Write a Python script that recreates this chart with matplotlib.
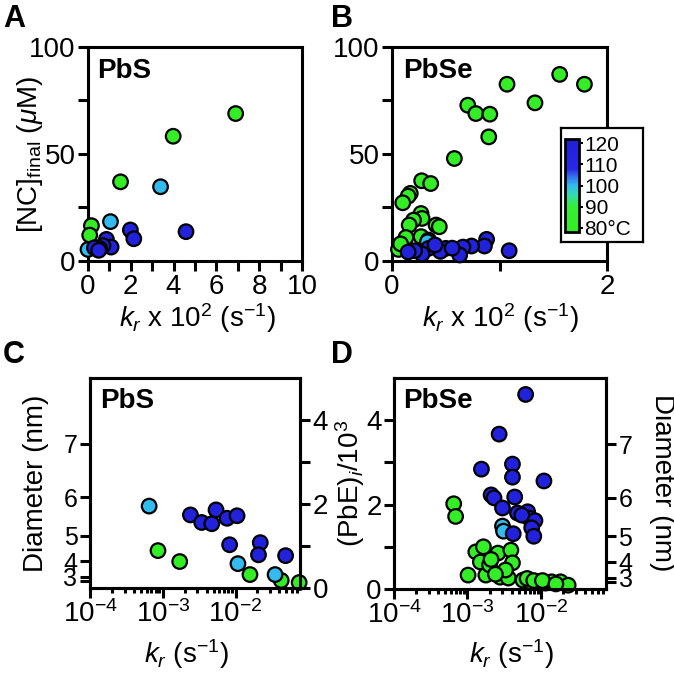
import matplotlib
matplotlib.use("Agg")
import matplotlib.pyplot as plt
from matplotlib.colors import LinearSegmentedColormap, Normalize
from matplotlib.cm import ScalarMappable

plt.rcParams['font.family'] = ['Liberation Sans', 'DejaVu Sans']
plt.rcParams['mathtext.fontset'] = 'custom'
plt.rcParams['mathtext.rm'] = 'Liberation Sans'
plt.rcParams['mathtext.it'] = 'Liberation Sans:italic'
plt.rcParams['mathtext.bf'] = 'Liberation Sans:bold'

# --- A: PbS, k_r x 10^2 (s^-1) vs [NC]_final (uM), colour = temperature (C)
a_x = [6.9, 3.98, 1.52, 0.16, 0.08,
       3.39, 1.05, 0.0,
       1.98, 2.14, 4.58, 0.86, 1.08, 0.7, 0.55, 0.3, 0.5]
a_y = [68.9, 58.3, 37.0, 16.5, 12.1,
       34.7, 18.4, 5.4,
       14.5, 10.4, 13.7, 10.1, 6.5, 7.2, 5.8, 6.2, 5.0]
a_t = [80] * 5 + [100] * 3 + [118] * 9

# --- B: PbSe
b_x = [1.56, 1.79, 1.07, 1.33, 0.705, 0.78, 0.91, 0.90, 0.58, 0.276, 0.36,
       0.17, 0.15, 0.10, 0.27, 0.28, 0.20, 0.16, 0.41, 0.44, 0.13, 0.27,
       0.34, 0.06, 0.08,
       0.33,
       1.09, 0.88, 0.86, 0.74, 0.66, 0.63, 0.50, 0.45, 0.34, 0.28, 0.21,
       0.15, 0.40, 0.56]
b_y = [87.2, 82.6, 82.6, 73.9, 72.8, 68.9, 68.6, 58.0, 47.9, 37.5, 36.2,
       31.6, 30.3, 27.2, 22.2, 19.9, 19.1, 16.8, 16.8, 16.0, 11.0, 11.4,
       9.8, 5.4, 8.0,
       9.0,
       4.8, 10.1, 7.0, 7.0, 6.5, 2.8, 5.9, 4.5, 5.9, 3.3, 4.8,
       4.2, 7.5, 6.0]
b_t = [80] * 25 + [100] * 1 + [118] * 14

# --- C: PbS, k_r (s^-1) vs (PbE)_i / 10^3
c_x = [8.6e-4, 1.71e-3, 1.58e-2, 4.25e-2, 7.5e-2,
       6.5e-4, 1.08e-2, 3.5e-2,
       2.4e-3, 3.43e-3, 4.72e-3, 5.4e-3, 7.65e-3, 1.05e-2, 8.3e-3,
       2.19e-2, 2.07e-2, 4.88e-2]
c_y = [0.89, 0.63, 0.32, 0.18, 0.13,
       1.95, 0.58, 0.32,
       1.74, 1.56, 1.53, 1.86, 1.66, 1.72, 1.03,
       1.08, 0.79, 0.77]
c_t = [80] * 5 + [100] * 3 + [118] * 10

# --- D: PbSe
d_x = [6.5e-4, 6.9e-4, 1.02e-3, 1.3e-3, 1.65e-3, 1.5e-3, 1.78e-3, 2.0e-3,
       2.6e-3, 2.8e-3, 3.6e-3, 3.9e-3, 4.1e-3, 3.3e-3, 5.7e-3, 7.2e-3,
       9.1e-3, 1.15e-2, 1.4e-2, 1.85e-2, 2.35e-2, 6.5e-3, 8.0e-3, 1.05e-2,
       1.6e-2, 2.4e-3, 2.1e-3,
       3.0e-3, 3.1e-3,
       6.2e-3, 2.7e-3, 1.55e-3, 4.1e-3, 4.1e-3, 1.1e-2, 2.1e-3, 2.3e-3,
       4.4e-3, 3.0e-3, 4.8e-3, 6.6e-3, 6.9e-3, 8.3e-3, 4.2e-3, 7.5e-3,
       8.0e-3, 5.5e-3]
d_y = [2.02, 1.72, 0.33, 0.88, 1.0, 0.64, 0.33, 0.57,
       0.85, 0.28, 0.26, 0.92, 0.62, 0.45, 0.21, 0.17,
       0.17, 0.14, 0.17, 0.17, 0.09, 0.25, 0.2, 0.2,
       0.12, 0.35, 0.7,
       1.49, 1.37,
       4.61, 3.67, 2.84, 2.96, 2.65, 2.56, 2.23, 2.16,
       2.18, 1.92, 1.80, 1.83, 1.68, 1.62, 1.31, 1.45,
       1.25, 1.75]
d_t = [80] * 27 + [100] * 2 + [118] * 18

# diameter (nm) ticks drawn against (PbE)_i/10^3 ~ 0.01 d^3
diam_ticks = [3, 4, 5, 6, 7]
pbe_per_nm3 = 0.01

cb_ticks = [80, 90, 100, 110, 120]
cb_labels = ['80°C', '90', '100', '110', '120']

# temperature colour scale
t_min, t_max = 78, 122
cmap = LinearSegmentedColormap.from_list("temp", [
    (0.00, "#33ee22"), (0.27, "#33ee33"), (0.39, "#33ddaa"),
    (0.50, "#33bbee"), (0.59, "#3377ee"), (0.68, "#2828e8"),
    (1.00, "#2020d8")])
norm = Normalize(t_min, t_max)

W = 674


def box(l, t, r, b):
    return [l / W, 1 - b / W, (r - l) / W, (b - t) / W]


def style(ax):
    for s in ax.spines.values():
        s.set_linewidth(2.2)
    ax.tick_params(which='both', direction='out', width=2.2, labelsize=20,
                   pad=2, length=7)


def dots(ax, x, y, t):
    ax.scatter(x, y, c=t, cmap=cmap, norm=norm, s=110, edgecolors='black',
               linewidths=1.6, clip_on=False, zorder=3)


def logx(ax):
    ax.set_xscale('log')
    ax.set_xlim(1e-4, 0.077)
    ax.set_xticks([1e-4, 1e-3, 1e-2])
    ax.set_xticklabels([r'10$^{-4}$', r'10$^{-3}$', r'10$^{-2}$'])
    ax.xaxis.set_minor_locator(matplotlib.ticker.LogLocator(
        base=10, subs=range(2, 10), numticks=20))
    ax.xaxis.set_minor_formatter(matplotlib.ticker.NullFormatter())
    ax.tick_params(axis='x', which='minor', length=3.5)


def diam_axis(ax):
    ax.set_ylim(0, 5)
    ax.set_yticks([pbe_per_nm3 * d ** 3 for d in diam_ticks])
    ax.set_yticklabels([str(d) for d in diam_ticks])
    ax.set_yticks([pbe_per_nm3 * 2.5 ** 3], minor=True)
    ax.tick_params(axis='y', labelsize=18)


def pbe_axis(ax):
    ax.set_ylim(0, 5)
    ax.set_yticks([0, 2, 4])
    ax.set_yticks([1, 3], minor=True)


fig = plt.figure(figsize=(6.74, 6.74), dpi=100)

# ---- A
ax = fig.add_axes(box(88, 47, 302, 261))
style(ax)
dots(ax, a_x, a_y, a_t)
ax.set_xlim(0, 10)
ax.set_ylim(0, 100)
ax.set_xticks([0, 2, 4, 6, 8, 10])
ax.set_xticks([1, 3, 5, 7, 9], minor=True)
ax.set_yticks([0, 50, 100])
ax.set_yticks([25, 75], minor=True)
ax.text(9 / 214, 1 - 31 / 214, 'PbS', transform=ax.transAxes,
        fontsize=20, weight='bold', va='baseline')

# ---- B
ax = fig.add_axes(box(392, 47, 607, 261))
style(ax)
dots(ax, b_x, b_y, b_t)
ax.set_xlim(0, 2)
ax.set_ylim(0, 100)
ax.set_xticks([0, 2])
ax.set_xticks([1], minor=True)
ax.set_yticks([0, 50, 100])
ax.set_yticks([25, 75], minor=True)
ax.text(11 / 215, 1 - 31 / 214, 'PbSe', transform=ax.transAxes,
        fontsize=20, weight='bold', va='baseline')

# colour bar inset
bax = fig.add_axes(box(561, 128, 643, 242), zorder=5)
bax.set_xticks([])
bax.set_yticks([])
for s in bax.spines.values():
    s.set_linewidth(1.6)
cax = fig.add_axes(box(565, 139, 579, 232), zorder=6)
cb = fig.colorbar(ScalarMappable(norm=norm, cmap=cmap), cax=cax)
cb.set_ticks(cb_ticks)
cb.set_ticklabels(cb_labels)
cb.outline.set_linewidth(2)
cax.tick_params(length=3, width=1.5, labelsize=15, pad=1)

# ---- C
ax = fig.add_axes(box(90, 378, 300, 588))
style(ax)
logx(ax)
diam_axis(ax)
ax2 = ax.twinx()
style(ax2)
pbe_axis(ax2)
dots(ax, c_x, c_y, c_t)
ax.text(10 / 210, 1 - 30 / 210, 'PbS', transform=ax.transAxes,
        fontsize=20, weight='bold', va='baseline')

# ---- D
ax = fig.add_axes(box(394, 378, 606, 589))
style(ax)
logx(ax)
pbe_axis(ax)
ax2 = ax.twinx()
style(ax2)
diam_axis(ax2)
dots(ax, d_x, d_y, d_t)
ax.text(9 / 212, 1 - 30 / 211, 'PbSe', transform=ax.transAxes,
        fontsize=20, weight='bold', va='baseline')

# axis titles
def lab(x, y, s, rot=0):
    fig.text(x / W, 1 - y / W, s, fontsize=20, rotation=rot,
             ha='center', va='center')


lab(30, 154, r'[NC]$_{\mathrm{final}}$ ($\mu$M)', 90)
lab(197, 318, r'$k_r$ x 10$^2$ (s$^{-1}$)')
lab(500, 318, r'$k_r$ x 10$^2$ (s$^{-1}$)')
lab(36, 483, 'Diameter (nm)', 90)
lab(186, 654, r'$k_r$ (s$^{-1}$)')
lab(350, 483, r'(PbE)$_i$/10$^3$', 90)
lab(511, 654, r'$k_r$ (s$^{-1}$)')
lab(662, 483, 'Diameter (nm)', -90)

# panel letters
for x, y, s in [(3, 27, 'A'), (331, 27, 'B'), (3, 363, 'C'), (331, 363, 'D')]:
    fig.text(x / W, 1 - y / W, s, fontsize=22, weight='bold', va='baseline')

fig.savefig("out.png", dpi=100)
